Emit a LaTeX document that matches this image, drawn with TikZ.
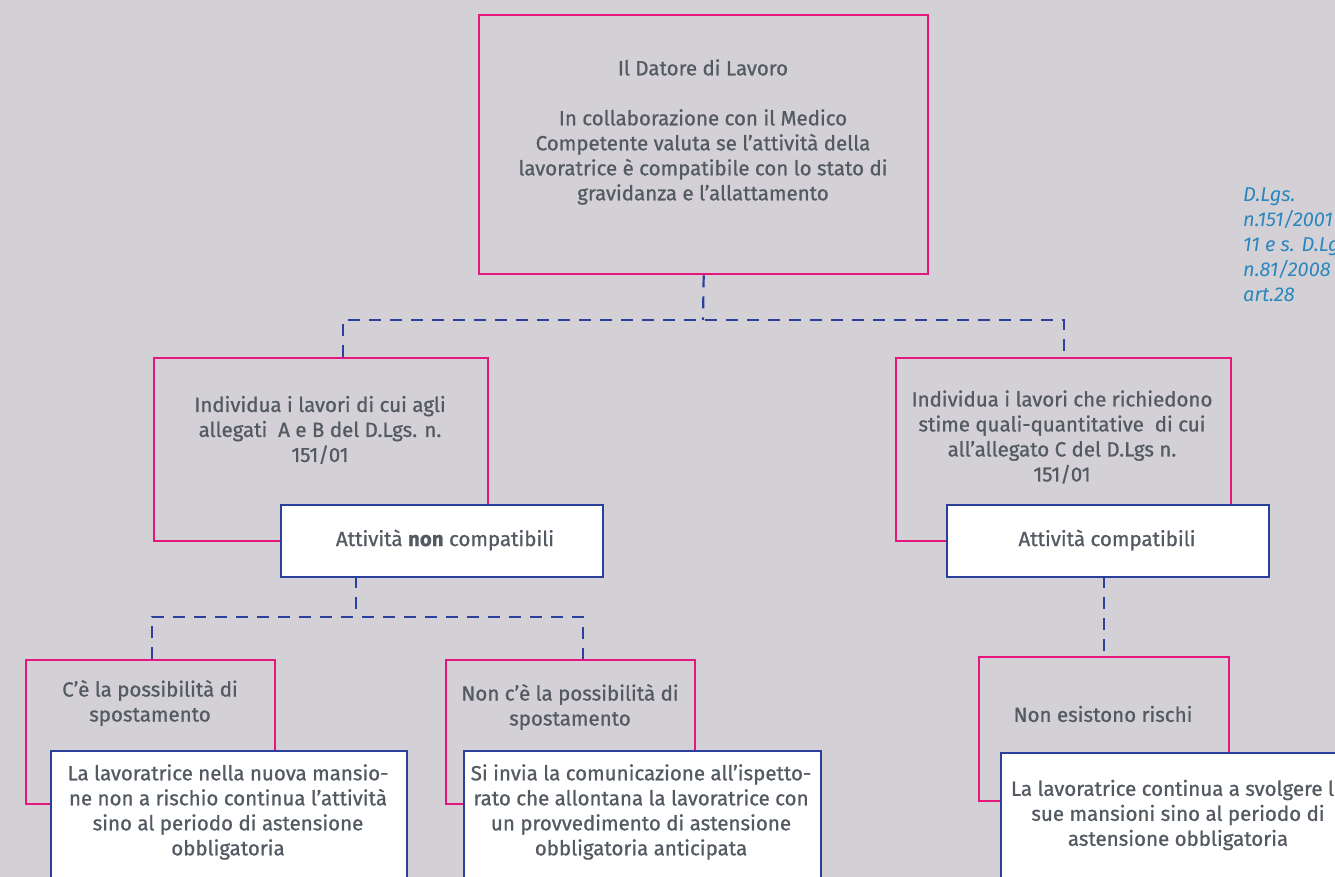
\documentclass[tikz,border=0pt]{standalone}
\usepackage{fontspec}
\setmainfont{Fira Sans}[FakeBold=0.6]
\newfontfamily\labelfont{Fira Sans}[FakeBold=0.9]
\newfontfamily\reffont{Fira Sans}
\definecolor{bg}{HTML}{D3D1D5}
\definecolor{pinkc}{HTML}{E5177E}
\definecolor{bluec}{HTML}{2B3F9C}
\definecolor{txt}{HTML}{545A62}
\definecolor{reftxt}{HTML}{2A86C0}
\tikzset{
  pinkbox/.style={draw=pinkc, line width=2.4pt, anchor=north west, inner sep=0pt},
  whitebox/.style={draw=bluec, fill=white, line width=2.4pt, anchor=north west, inner sep=0pt},
  lbl/.style={text=txt, align=center, font=\labelfont\fontsize{20.5}{25}\selectfont, inner sep=0pt},
  dashline/.style={draw=bluec, line width=2.2pt, dash pattern=on 12pt off 9pt},
}
\begin{document}
\begin{tikzpicture}[x=1pt,y=-1pt]
\fill[bg] (0,0) rectangle (1335,877);
\useasboundingbox (0,0) rectangle (1335,877);
\clip (0,0) rectangle (1335,877);

% top box
\node[pinkbox, minimum width=449pt, minimum height=259pt] (top) at (478,14) {};
\node[lbl] (toptxt) at (703,132) {Il Datore di Lavoro\\[25pt]In collaborazione con il Medico\\Competente valuta se l’attività della\\lavoratrice è compatibile con lo stato di\\gravidanza e l’allattamento};

% reference
\node[text=reftxt, font=\reffont\fontsize{20}{25}\selectfont\itshape, align=left, anchor=north west, inner sep=0pt] (ref) at (1243,188) {D.Lgs.\\n.151/2001\\11 e s. D.Lgs.\\n.81/2008\\art.28};

% mid boxes
\node[pinkbox, minimum width=334pt, minimum height=183pt] (lmid) at (153,357) {};
\node[lbl] (lmidtxt) at (320,430) {Individua i lavori di cui agli\\allegati\ \ A e B del D.Lgs. n.\\151/01};
\node[pinkbox, minimum width=335pt, minimum height=183pt] (rmid) at (895,357) {};
\node[lbl] (rmidtxt) at (1062,437) {Individua i lavori che richiedono\\stime quali-quantitative\ \ di cui\\all’allegato C del D.Lgs n.\\151/01};

\node[whitebox, minimum width=322pt, minimum height=72pt] (nonc) at (280,504) {};
\node[lbl] (nonctxt) at (445,540) {Attività {\rmfamily\bfseries non} compatibili};
\node[whitebox, minimum width=322pt, minimum height=72pt] (comp) at (946,504) {};
\node[lbl] (comptxt) at (1107,540) {Attività compatibili};

% bottom boxes
\node[pinkbox, minimum width=249pt, minimum height=144pt] (bl) at (25,659) {};
\node[lbl] (bltxt) at (150,703) {C’è la possibilità di\\spostamento};
\node[pinkbox, minimum width=249pt, minimum height=144pt] (bm) at (445,659) {};
\node[lbl] (bmtxt) at (570,707) {Non c’è la possibilità di\\spostamento};
\node[pinkbox, minimum width=250pt, minimum height=144pt] (br) at (978,656) {};
\node[lbl] (brtxt) at (1103,714) {Non esistono rischi};

\node[whitebox, minimum width=356pt, minimum height=160pt] (wbl) at (50,750) {};
\node[lbl] (wbltxt) at (228,812) {La lavoratrice nella nuova mansio-\\ne non a rischio continua l’attività\\sino al periodo di astensione\\obbligatoria};
\node[whitebox, minimum width=357pt, minimum height=160pt] (wbm) at (463,750) {};
\node[lbl] (wbmtxt) at (641,812) {Si invia la comunicazione all’ispetto-\\rato che allontana la lavoratrice con\\un provvedimento di astensione\\obbligatoria anticipata};
\node[whitebox, minimum width=356pt, minimum height=160pt] (wbr) at (1000,752) {};
\node[lbl] (wbrtxt) at (1178,815) {La lavoratrice continua a svolgere le\\sue mansioni sino al periodo di\\astensione obbligatoria};

% connectors
\coordinate (j1) at (703,320);
\coordinate (lA) at (343,357);
\draw[dashline] (top.south) -- (j1);
\draw[dashline] (lA) |- (j1) -| (rmid.north);
\coordinate (nA) at (356,576);
\coordinate (j2) at (356,617);
\coordinate (blA) at (152,659);
\coordinate (bmA) at (583,659);
\draw[dashline] (nA) -- (j2);
\draw[dashline] (blA) |- (j2) -| (bmA);
\coordinate (cA) at (1104,576);
\coordinate (brA) at (1104,656);
\draw[dashline] (cA) -- (brA);
\end{tikzpicture}
\end{document}
